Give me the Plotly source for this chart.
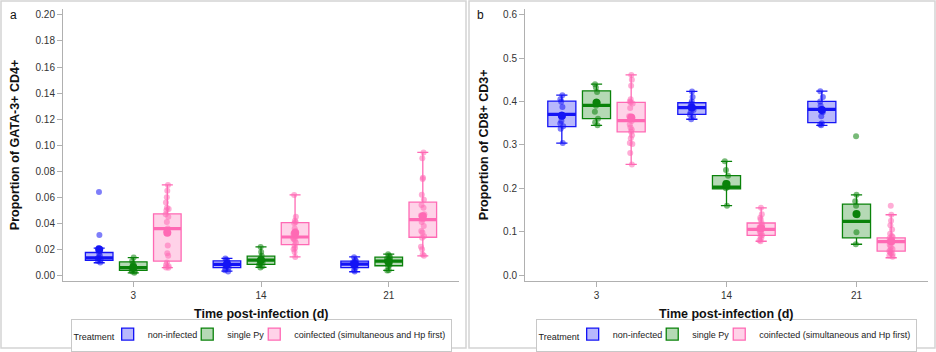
import plotly.graph_objects as go

# ---------------- data ----------------
DAYS = ['3', '14', '21']
TREATMENTS = ['non-infected', 'single Py', 'coinfected (simultaneous and Hp first)']

# Panel a: Proportion of GATA-3+ CD4+
A_NI_LOWER = [0.0097, 0.0033, 0.0028]
A_NI_Q1 = [0.0115, 0.0059, 0.0059]
A_NI_MEDIAN = [0.0134, 0.0084, 0.0087]
A_NI_Q3 = [0.0176, 0.0112, 0.0109]
A_NI_UPPER = [0.0210, 0.0130, 0.0142]
A_NI_MEAN = [0.0198, 0.0085, 0.0088]
A_NI_POINTS = [
    [0.064, 0.031, 0.021, 0.020, 0.019, 0.017, 0.015, 0.014, 0.013, 0.012, 0.011, 0.010],
    [0.013, 0.012, 0.011, 0.010, 0.009, 0.008, 0.008, 0.007, 0.006, 0.005, 0.004, 0.003],
    [0.014, 0.012, 0.011, 0.010, 0.009, 0.009, 0.008, 0.007, 0.006, 0.004, 0.003],
]

A_PY_LOWER = [0.0020, 0.0061, 0.0038]
A_PY_Q1 = [0.0038, 0.0084, 0.0074]
A_PY_MEDIAN = [0.0059, 0.0117, 0.0109]
A_PY_Q3 = [0.0104, 0.0148, 0.0140]
A_PY_UPPER = [0.0137, 0.0219, 0.0163]
A_PY_MEAN = [0.0062, 0.0118, 0.0105]
A_PY_POINTS = [
    [0.0137, 0.011, 0.009, 0.008, 0.007, 0.006, 0.005, 0.004, 0.003, 0.003, 0.002],
    [0.0219, 0.018, 0.015, 0.013, 0.012, 0.011, 0.011, 0.010, 0.009, 0.008, 0.007, 0.0061],
    [0.0163, 0.015, 0.014, 0.013, 0.012, 0.011, 0.010, 0.009, 0.008, 0.007, 0.004, 0.0038],
]

A_CO_LOWER = [0.0059, 0.0142, 0.0150]
A_CO_Q1 = [0.0110, 0.0237, 0.0293]
A_CO_MEDIAN = [0.0359, 0.0295, 0.0428]
A_CO_Q3 = [0.0473, 0.0405, 0.0562]
A_CO_UPPER = [0.0695, 0.0618, 0.0944]
A_CO_MEAN = [0.0328, 0.0326, 0.0455]
A_CO_POINTS = [
    [0.0695, 0.065, 0.060, 0.056, 0.052, 0.051, 0.050, 0.047, 0.045, 0.041, 0.036,
     0.034, 0.033, 0.023, 0.017, 0.015, 0.010, 0.008, 0.007, 0.006, 0.0059],
    [0.0618, 0.045, 0.042, 0.041, 0.040, 0.036, 0.034, 0.033, 0.032, 0.030, 0.029,
     0.028, 0.027, 0.025, 0.023, 0.021, 0.020, 0.018, 0.0142],
    [0.0944, 0.090, 0.075, 0.074, 0.062, 0.058, 0.054, 0.052, 0.047, 0.046, 0.044,
     0.043, 0.041, 0.038, 0.034, 0.033, 0.030, 0.029, 0.022, 0.020, 0.016, 0.015],
]

# Panel b: Proportion of CD8+ CD3+
B_NI_LOWER = [0.304, 0.359, 0.345]
B_NI_Q1 = [0.342, 0.370, 0.351]
B_NI_MEDIAN = [0.370, 0.3856, 0.3817]
B_NI_Q3 = [0.4008, 0.397, 0.400]
B_NI_UPPER = [0.4145, 0.423, 0.4237]
B_NI_MEAN = [0.367, 0.386, 0.380]
B_NI_POINTS = [
    [0.4145, 0.405, 0.399, 0.387, 0.370, 0.365, 0.355, 0.349, 0.343, 0.337, 0.304],
    [0.423, 0.410, 0.400, 0.395, 0.388, 0.385, 0.380, 0.375, 0.370, 0.365, 0.359],
    [0.4237, 0.410, 0.400, 0.390, 0.382, 0.375, 0.366, 0.350, 0.347, 0.345],
]

B_PY_LOWER = [0.345, 0.160, 0.071]
B_PY_Q1 = [0.3604, 0.1985, 0.0856]
B_PY_MEDIAN = [0.391, 0.2024, 0.1237]
B_PY_Q3 = [0.4245, 0.229, 0.1635]
B_PY_UPPER = [0.4397, 0.262, 0.185]
B_PY_MEAN = [0.397, 0.210, 0.1405]
B_PY_POINTS = [
    [0.4397, 0.432, 0.422, 0.400, 0.397, 0.390, 0.376, 0.360, 0.352, 0.345],
    [0.262, 0.242, 0.229, 0.212, 0.207, 0.203, 0.200, 0.160],
    [0.320, 0.185, 0.170, 0.160, 0.140, 0.138, 0.0985, 0.071],
]

B_CO_LOWER = [0.255, 0.078, 0.040]
B_CO_Q1 = [0.330, 0.0916, 0.055]
B_CO_MEDIAN = [0.356, 0.1054, 0.0772]
B_CO_Q3 = [0.398, 0.120, 0.0856]
B_CO_UPPER = [0.461, 0.155, 0.139]
B_CO_MEAN = [0.363, 0.108, 0.078]
B_CO_POINTS = [
    [0.461, 0.450, 0.436, 0.405, 0.400, 0.398, 0.395, 0.385, 0.366, 0.362, 0.360,
     0.355, 0.347, 0.340, 0.335, 0.330, 0.322, 0.315, 0.304, 0.302, 0.281, 0.255],
    [0.155, 0.140, 0.132, 0.128, 0.120, 0.115, 0.110, 0.107, 0.105, 0.100, 0.097,
     0.092, 0.090, 0.085, 0.080, 0.078],
    [0.160, 0.139, 0.125, 0.115, 0.105, 0.095, 0.090, 0.088, 0.085, 0.080, 0.078,
     0.076, 0.075, 0.070, 0.065, 0.060, 0.058, 0.055, 0.052, 0.050, 0.048, 0.045, 0.042],
]

# ---------------- style ----------------
W, H = 936, 352
FONT = 'Liberation Sans'
LINE_COLORS = ['rgb(20,20,245)', 'rgb(10,130,10)', 'rgb(255,105,180)']
FILL_COLORS = ['rgba(20,20,245,0.30)', 'rgba(10,130,10,0.30)', 'rgba(255,105,180,0.30)']
PT_COLORS = ['rgba(20,20,245,0.55)', 'rgba(10,130,10,0.55)', 'rgba(255,105,180,0.55)']
GROUPS = ['ni', 'py', 'co']
AXIS_GRAY = '#b0b0b0'

fig = go.Figure()


def add_treatment(i, xa, ya, legend, lower, q1, med, q3, upper, mean, points, showlegend):
    og = GROUPS[i]
    common = dict(xaxis=xa, yaxis=ya, offsetgroup=og, alignmentgroup=xa, hoverinfo='skip',
                  legend=legend)
    # box with whiskers
    fig.add_trace(go.Box(
        x=DAYS, q1=q1, median=med, q3=q3, lowerfence=lower, upperfence=upper,
        name=TREATMENTS[i], fillcolor=FILL_COLORS[i],
        line=dict(color=LINE_COLORS[i], width=1.3), whiskerwidth=0.4,
        boxpoints=False, showlegend=showlegend, **common))
    # thick median line
    fig.add_trace(go.Box(
        x=DAYS, q1=med, median=med, q3=med, lowerfence=med, upperfence=med,
        name=TREATMENTS[i], fillcolor='rgba(0,0,0,0)',
        line=dict(color=LINE_COLORS[i], width=3.2), whiskerwidth=0,
        boxpoints=False, showlegend=False, **common))
    # individual observations
    xs, ys = [], []
    for d, vals in zip(DAYS, points):
        xs += [d] * len(vals)
        ys += vals
    fig.add_trace(go.Box(
        x=xs, y=ys, name=TREATMENTS[i], fillcolor='rgba(0,0,0,0)',
        line=dict(color='rgba(0,0,0,0)', width=0), boxpoints='all', jitter=0.15,
        pointpos=0, marker=dict(color=PT_COLORS[i], size=6, line=dict(width=0)),
        showlegend=False, **common))
    # mean marker
    fig.add_trace(go.Box(
        x=DAYS, y=mean, name=TREATMENTS[i], fillcolor='rgba(0,0,0,0)',
        line=dict(color='rgba(0,0,0,0)', width=0), boxpoints='all', jitter=0,
        pointpos=0, marker=dict(color=LINE_COLORS[i], size=8, line=dict(width=0)),
        showlegend=False, **common))


A_STATS = [
    (A_NI_LOWER, A_NI_Q1, A_NI_MEDIAN, A_NI_Q3, A_NI_UPPER, A_NI_MEAN, A_NI_POINTS),
    (A_PY_LOWER, A_PY_Q1, A_PY_MEDIAN, A_PY_Q3, A_PY_UPPER, A_PY_MEAN, A_PY_POINTS),
    (A_CO_LOWER, A_CO_Q1, A_CO_MEDIAN, A_CO_Q3, A_CO_UPPER, A_CO_MEAN, A_CO_POINTS),
]
B_STATS = [
    (B_NI_LOWER, B_NI_Q1, B_NI_MEDIAN, B_NI_Q3, B_NI_UPPER, B_NI_MEAN, B_NI_POINTS),
    (B_PY_LOWER, B_PY_Q1, B_PY_MEDIAN, B_PY_Q3, B_PY_UPPER, B_PY_MEAN, B_PY_POINTS),
    (B_CO_LOWER, B_CO_Q1, B_CO_MEDIAN, B_CO_Q3, B_CO_UPPER, B_CO_MEAN, B_CO_POINTS),
]
for i, st in enumerate(A_STATS):
    add_treatment(i, 'x', 'y', 'legend', *st, showlegend=True)
for i, st in enumerate(B_STATS):
    add_treatment(i, 'x2', 'y2', 'legend2', *st, showlegend=True)

# ---------------- layout ----------------
px_x = lambda p: p / W
px_y = lambda p: 1 - p / H

Y_DOM = [px_y(283), px_y(9)]
XA_DOM = [px_x(63), px_x(459)]
XB_DOM = [px_x(525), px_x(928)]

xaxis_common = dict(type='category', categoryorder='array', categoryarray=DAYS,
                    range=[-0.55, 2.55], showline=True, linecolor=AXIS_GRAY, linewidth=1,
                    ticks='outside', ticklen=5, tickcolor=AXIS_GRAY, showgrid=False,
                    zeroline=False, tickfont=dict(family=FONT, size=10, color='#333'),
                    fixedrange=True)
yaxis_common = dict(showline=True, linecolor=AXIS_GRAY, linewidth=1, ticks='outside',
                    ticklen=5, tickcolor=AXIS_GRAY, showgrid=False, zeroline=False,
                    tickfont=dict(family=FONT, size=10, color='#333'), fixedrange=True)

legend_common = dict(orientation='h', xanchor='center', yanchor='middle', y=px_y(337),
                     bordercolor='#c8c8c8', borderwidth=1, bgcolor='white',
                     font=dict(family=FONT, size=9, color='#222'), itemwidth=30,
                     indentation=-15,
                     tracegroupgap=0, itemclick=False, itemdoubleclick=False,
                     title=dict(text='<span style="font-size:9px">Treatment</span>', side='left',
                                font=dict(family=FONT, size=16, color='#222')))

fig.update_layout(
    width=W, height=H, autosize=False,
    margin=dict(l=0, r=0, t=0, b=0, pad=0),
    paper_bgcolor='white', plot_bgcolor='white',
    boxmode='group', boxgap=0.2, boxgroupgap=0.19,
    font=dict(family=FONT, color='#222'),
    xaxis=dict(domain=XA_DOM, anchor='y', **xaxis_common),
    yaxis=dict(domain=Y_DOM, anchor='x', range=[-0.0046, 0.2046], tickvals=[i / 50 for i in range(11)],
               tickformat='.2f', **yaxis_common),
    xaxis2=dict(domain=XB_DOM, anchor='y2', **xaxis_common),
    yaxis2=dict(domain=Y_DOM, anchor='x2', range=[-0.0145, 0.613], tickvals=[i / 10 for i in range(7)],
                tickformat='.1f', **yaxis_common),
    legend=dict(x=px_x(261), **legend_common),
    legend2=dict(x=px_x(726), **legend_common),
    showlegend=True,
    hovermode=False,
)

# panel frames
for x0, x1 in [(1, 466), (469, 935)]:
    fig.add_shape(type='rect', xref='paper', yref='paper', x0=px_x(x0), x1=px_x(x1),
                  y0=px_y(350), y1=px_y(1), line=dict(color='#d4d4d4', width=1.5),
                  fillcolor='rgba(0,0,0,0)', layer='below')

ann = []
C = dict(xref='paper', yref='paper', showarrow=False, xanchor='center', yanchor='middle')
# panel letters
ann.append(dict(text='a', x=px_x(13), y=px_y(15), font=dict(family=FONT, size=12, color='#111'), **C))
ann.append(dict(text='b', x=px_x(481), y=px_y(15), font=dict(family=FONT, size=12, color='#111'), **C))
# axis titles
for cx in [261, 726]:
    ann.append(dict(text='<b>Time post-infection (d)</b>', x=px_x(cx), y=px_y(316),
                    font=dict(family=FONT, size=12.5, color='#111'), **C))
ann.append(dict(text='<b>Proportion of GATA-3+ CD4+</b>', x=px_x(15), y=px_y(146), textangle=-90,
                font=dict(family=FONT, size=12.5, color='#111'), **C))
ann.append(dict(text='<b>Proportion of CD8+ CD3+</b>', x=px_x(484), y=px_y(146), textangle=-90,
                font=dict(family=FONT, size=12.5, color='#111'), **C))
fig.update_layout(annotations=ann)

fig.write_html('out.html')
